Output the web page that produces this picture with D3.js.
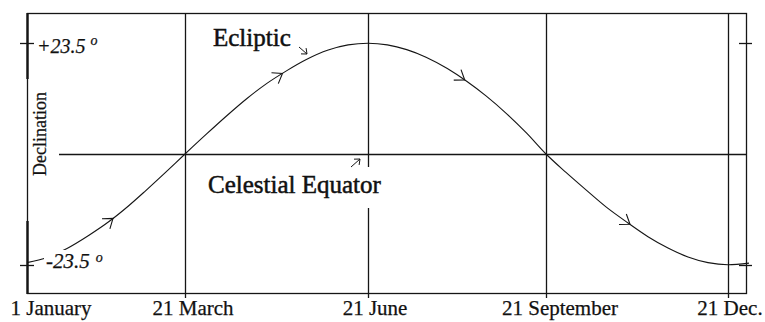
<!DOCTYPE html>
<html>
<head>
<meta charset="utf-8">
<script src="https://cdn.jsdelivr.net/npm/d3@7"></script>
<style>
  html, body { margin: 0; padding: 0; background: #fff; }
  svg { display: block; }
</style>
</head>
<body>
<svg id="chart" width="765" height="322"></svg>
<script>
// Day of year and solar declination (degrees) through the year
const days = [1, 11, 21, 32, 42, 52, 60, 70, 80, 91, 101, 111, 121, 131, 141, 152, 162, 172,
              182, 192, 202, 213, 223, 233, 244, 254, 264, 274, 284, 294, 305, 315, 325, 335, 345, 355, 365];
const declination = [-23.0, -21.9, -20.0, -17.2, -14.3, -10.9, -7.9, -4.0, 0.0, 4.3, 8.1, 11.7, 14.9, 17.6, 20.0, 22.0, 23.1, 23.44,
                     23.1, 22.1, 20.5, 18.1, 15.4, 12.3, 8.4, 4.4, 0.0, -3.9, -7.6, -11.2, -14.6, -17.5, -19.9, -21.8, -23.0, -23.44, -23.1];

// Axis ticks
const tickDays = [1, 80, 172, 264, 355];
const tickLabels = ["1 January", "21 March", "21 June", "21 September", "21 Dec."];
const declTicks = [23.5, -23.5];
const declTickLabels = ["+23.5", "-23.5"];

// Direction arrows drawn along the ecliptic curve
const arrowDays = [44, 129, 222, 306];

const svg = d3.select("#chart");
const ink = "#151515";
const serif = "'Liberation Serif', 'Times New Roman', Times, serif";

const frameL = 27, frameR = 746, frameT = 13, frameB = 293;

// Month ticks are spaced unevenly in the drawing, so the day scale is piecewise
const x = d3.scaleLinear()
  .domain([1, 80, 172, 264, 355, 365])
  .range([frameL, 185, 368, 546, 728, 749]);
const y = d3.scaleLinear().domain([-23.5, 23.5]).range([265, 43]);

function label(px, py, size, str) {
  return svg.append("text")
    .attr("x", px).attr("y", py)
    .attr("font-family", serif).attr("font-size", size)
    .attr("fill", "#111")
    .attr("stroke", "#111").attr("stroke-width", 0.25)
    .text(str);
}

// Frame
svg.append("rect")
  .attr("x", frameL + 0.5).attr("y", frameT + 0.5)
  .attr("width", frameR - frameL).attr("height", frameB - frameT)
  .attr("fill", "none").attr("stroke", ink).attr("stroke-width", 1.3);

// Heavier segments of the left edge
[[frameT, 78], [221, frameB]].forEach(([a, b]) => {
  svg.append("line").attr("x1", frameL + 0.5).attr("x2", frameL + 0.5)
    .attr("y1", a).attr("y2", b + 1)
    .attr("stroke", ink).attr("stroke-width", 2.4);
});

// Vertical date lines
svg.append("g").selectAll("line")
  .data(tickDays.slice(1))
  .join("line")
  .attr("x1", d => Math.round(x(d)) + 0.5).attr("x2", d => Math.round(x(d)) + 0.5)
  .attr("y1", frameT).attr("y2", frameB + 5)
  .attr("stroke", ink).attr("stroke-width", 1.3);

// Celestial equator (declination 0)
svg.append("line")
  .attr("x1", 59).attr("x2", frameR)
  .attr("y1", Math.round(y(0)) + 0.5).attr("y2", Math.round(y(0)) + 0.5)
  .attr("stroke", ink).attr("stroke-width", 1.3);

// Declination ticks on both edges
declTicks.forEach(v => {
  const yy = Math.round(y(v)) + 0.5;
  svg.append("line").attr("x1", 20).attr("x2", 34).attr("y1", yy).attr("y2", yy)
    .attr("stroke", ink).attr("stroke-width", 1.3);
  svg.append("line").attr("x1", 739).attr("x2", 752).attr("y1", yy).attr("y2", yy)
    .attr("stroke", ink).attr("stroke-width", 1.3);
});

// Ecliptic curve
const pts = days.map((d, i) => [d, declination[i]]);
const line = d3.line().x(d => x(d[0])).y(d => y(d[1])).curve(d3.curveMonotoneX);
svg.append("path").datum(pts)
  .attr("d", line).attr("fill", "none")
  .attr("stroke", ink).attr("stroke-width", 1.1);

// Open arrowheads along the curve
const declAt = d3.scaleLinear().domain(days).range(declination);
function arrowHead(tx, ty, ang, len, spread) {
  const a1 = ang + Math.PI - spread, a2 = ang + Math.PI + spread;
  return `M${tx + len * Math.cos(a1)},${ty + len * Math.sin(a1)}L${tx},${ty}L${tx + len * Math.cos(a2)},${ty + len * Math.sin(a2)}`;
}
arrowDays.forEach(d => {
  const tx = x(d), ty = y(declAt(d));
  const ang = Math.atan2(y(declAt(d + 3)) - y(declAt(d - 3)), x(d + 3) - x(d - 3));
  svg.append("path")
    .attr("d", arrowHead(tx, ty, ang, 11, 0.62))
    .attr("fill", "none").attr("stroke", ink).attr("stroke-width", 1.1);
});

// Label backgrounds that hide the lines behind them
svg.append("rect").attr("x", 44).attr("y", 250).attr("width", 72).attr("height", 22).attr("fill", "#fff");
svg.append("rect").attr("x", 203).attr("y", 167).attr("width", 184).attr("height", 41).attr("fill", "#fff");

// Declination labels
label(37, 53, 20, declTickLabels[0]).attr("font-style", "italic")
  .append("tspan").attr("dx", 5).attr("dy", -8).attr("font-size", 14).text("o");
label(46, 268, 21, declTickLabels[1]).attr("font-style", "italic")
  .append("tspan").attr("dx", 6).attr("dy", -6).attr("font-size", 14).text("o");

// Axis title
label(0, 0, 18, "Declination")
  .attr("transform", "translate(46,134) rotate(-90)")
  .attr("text-anchor", "middle");

// Date labels
const labelNudge = [24, 8, 7, 14, 2];
tickDays.forEach((d, i) => {
  label(x(d) + labelNudge[i], 315, 21, tickLabels[i]).attr("text-anchor", "middle");
});

// Annotations
label(213, 46, 25, "Ecliptic").attr("stroke-width", 0.5);
label(208, 193, 25, "Celestial Equator").attr("stroke-width", 0.5);

// Small pointer arrows from the annotations
function pointer(x1, y1, x2, y2) {
  const ang = Math.atan2(y2 - y1, x2 - x1);
  svg.append("path")
    .attr("d", `M${x1},${y1}L${x2},${y2}` + arrowHead(x2, y2, ang, 6, 0.7))
    .attr("fill", "none").attr("stroke", ink).attr("stroke-width", 1);
}
pointer(299, 47, 307, 54);
pointer(351, 167, 360, 159);
</script>
</body>
</html>
